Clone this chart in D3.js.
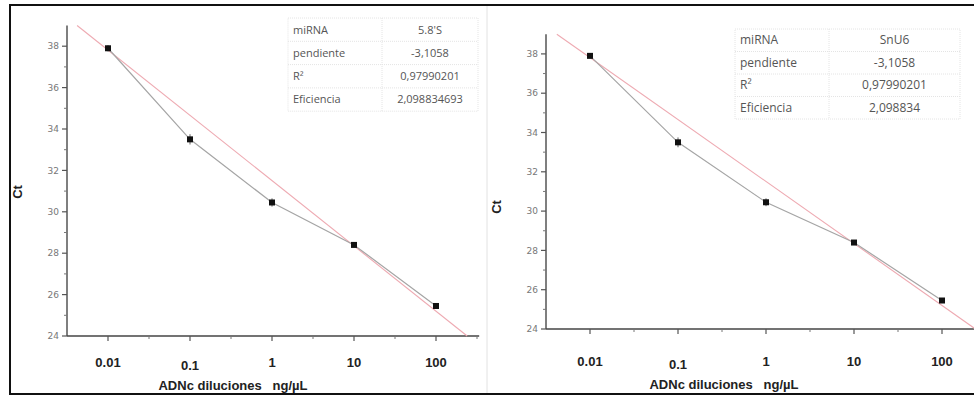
<!DOCTYPE html>
<html>
<head>
<meta charset="utf-8">
<script src="https://cdn.jsdelivr.net/npm/d3@7"></script>
<style>
  body { margin: 0; background: #fff; }
  svg { display: block; }
</style>
</head>
<body>
<script>
const width = 974, height = 396;

// data
const dilutions = [0.01, 0.1, 1, 10, 100];
const ctLeft = [37.9, 33.5, 30.45, 28.4, 25.45];
const errLeft = [0.15, 0.25, 0.2, 0.12, 0.12];
const ctRight = [37.9, 33.5, 30.45, 28.4, 25.45];
const errRight = [0.12, 0.25, 0.2, 0.1, 0.1];
const fitX = [0.0042, 240];
const fitY = [39.0, 24.0];
const yTicks = [24, 26, 28, 30, 32, 34, 36, 38];
const xTicks = [0.01, 0.1, 1, 10, 100];
const xTickLabels = ["0.01", "0.1", "1", "10", "100"];
const tableLabels = ["miRNA", "pendiente", "R²", "Eficiencia"];
const tableLeft = ["5.8'S", "-3,1058", "0,97990201", "2,098834693"];
const tableRight = ["SnU6", "-3,1058", "0,97990201", "2,098834"];

const svg = d3.select("body").append("svg").attr("width", width).attr("height", height);

// frame
svg.append("line").attr("x1", 10).attr("x2", width).attr("y1", 5).attr("y2", 5).attr("stroke", "#111").attr("stroke-width", 2);
svg.append("line").attr("x1", 10).attr("x2", width).attr("y1", 394).attr("y2", 394).attr("stroke", "#111").attr("stroke-width", 2);
svg.append("line").attr("x1", 10).attr("x2", 10).attr("y1", 4).attr("y2", 395).attr("stroke", "#111").attr("stroke-width", 2);
svg.append("line").attr("x1", 487).attr("x2", 487).attr("y1", 6).attr("y2", 393).attr("stroke", "#e2e2e2").attr("stroke-width", 1);

function drawPanel(p) {
  const g = svg.append("g");
  const x = d3.scaleLog().domain([Math.pow(10, -2.5), Math.pow(10, 2.5)]).range([p.x0, p.x0 + p.decade * 5]);
  const y = d3.scaleLinear().domain([24, 39]).range([p.y24, p.y24 - p.unit * 15]);

  // y axis
  const minorY = d3.range(25, 39, 2);
  g.append("line").attr("x1", p.x0).attr("x2", p.x0).attr("y1", y(39)).attr("y2", y(24))
    .attr("stroke", "#555").attr("stroke-width", 1.5);
  g.selectAll(".ymaj").data(yTicks).join("line")
    .attr("x1", p.x0 - 5).attr("x2", p.x0).attr("y1", d => y(d)).attr("y2", d => y(d))
    .attr("stroke", "#555").attr("stroke-width", 1.2);
  g.selectAll(".ymin").data(minorY).join("line")
    .attr("x1", p.x0 - 3).attr("x2", p.x0).attr("y1", d => y(d)).attr("y2", d => y(d))
    .attr("stroke", "#777").attr("stroke-width", 1);
  g.selectAll(".ylab").data(yTicks).join("text")
    .attr("x", p.x0 - 8).attr("y", d => y(d)).attr("dy", "0.35em")
    .attr("text-anchor", "end").attr("font-family", "DejaVu Sans, sans-serif")
    .attr("font-size", 9).attr("fill", "#777").text(d => d);

  // x axis
  const minorX = [0.01, 0.1, 1, 10, 100, 1000].map(d => d / Math.sqrt(10));
  g.append("line").attr("x1", p.x0).attr("x2", x(fitX[1]) + 12).attr("y1", y(24)).attr("y2", y(24))
    .attr("stroke", "#444").attr("stroke-width", 1.5);
  g.selectAll(".xmaj").data(xTicks).join("line")
    .attr("x1", d => x(d)).attr("x2", d => x(d)).attr("y1", y(24)).attr("y2", y(24) + 5)
    .attr("stroke", "#555").attr("stroke-width", 1.2);
  g.selectAll(".xmin").data(minorX.filter(d => x(d) > p.x0 + 2 && x(d) < width)).join("line")
    .attr("x1", d => x(d)).attr("x2", d => x(d)).attr("y1", y(24)).attr("y2", y(24) + 3)
    .attr("stroke", "#777").attr("stroke-width", 1);
  g.selectAll(".xlab").data(xTicks).join("text")
    .attr("x", d => x(d)).attr("y", (d, i) => p.tickY + (i === 1 ? 3 : 0))
    .attr("text-anchor", "middle").attr("font-family", "Liberation Sans, Arial, sans-serif")
    .attr("font-weight", "bold").attr("font-size", 13).attr("fill", "#222")
    .text((d, i) => xTickLabels[i]);

  // axis titles
  g.append("text").attr("x", p.titleX).attr("y", p.titleY).attr("text-anchor", "middle")
    .attr("font-family", "Liberation Sans, Arial, sans-serif").attr("font-weight", "bold")
    .attr("font-size", 13).attr("fill", "#222").attr("xml:space", "preserve")
    .text("ADNc diluciones   ng/µL");
  g.append("text").attr("transform", `translate(${p.ctX},${p.ctY}) rotate(-90)`)
    .attr("text-anchor", "middle").attr("font-family", "Liberation Sans, Arial, sans-serif")
    .attr("font-weight", "bold").attr("font-size", 13).attr("fill", "#222").text("Ct");

  // fit line
  g.append("line").attr("x1", x(fitX[0])).attr("y1", y(fitY[0])).attr("x2", x(fitX[1])).attr("y2", y(fitY[1]))
    .attr("stroke", "#eeaab2").attr("stroke-width", 1.1);

  // connecting line
  const pts = dilutions.map((d, i) => [d, p.ct[i], p.err[i]]);
  g.append("path").datum(pts)
    .attr("d", d3.line().x(d => x(d[0])).y(d => y(d[1])))
    .attr("fill", "none").attr("stroke", "#a5a5a5").attr("stroke-width", 1.2);

  // error bars
  g.selectAll(".err").data(pts).join("line")
    .attr("x1", d => x(d[0])).attr("x2", d => x(d[0]))
    .attr("y1", d => y(d[1] - d[2])).attr("y2", d => y(d[1] + d[2]))
    .attr("stroke", "#666").attr("stroke-width", 1);
  g.selectAll(".pt").data(pts).join("rect")
    .attr("x", d => x(d[0]) - 3).attr("y", d => y(d[1]) - 3)
    .attr("width", 6).attr("height", 6).attr("fill", "#111");

  // table
  const t = g.append("g").attr("transform", `translate(${p.tx},${p.ty})`);
  t.append("rect").attr("width", p.tw).attr("height", p.rowH * 4).attr("fill", "#fff")
    .attr("stroke", "#e4e4e4").attr("stroke-dasharray", "1,1");
  t.selectAll(".hl").data(d3.range(1, 4)).join("line")
    .attr("x1", 0).attr("x2", p.tw).attr("y1", d => d * p.rowH).attr("y2", d => d * p.rowH)
    .attr("stroke", "#e4e4e4").attr("stroke-dasharray", "1,1");
  t.append("line").attr("x1", p.colX).attr("x2", p.colX).attr("y1", 0).attr("y2", p.rowH * 4)
    .attr("stroke", "#e4e4e4").attr("stroke-dasharray", "1,1");
  t.selectAll(".lab").data(tableLabels).join("text")
    .attr("x", 5).attr("y", (d, i) => (i + 0.5) * p.rowH).attr("dy", "0.35em")
    .attr("font-family", "Open Sans, DejaVu Sans, sans-serif").attr("font-size", p.fs)
    .attr("fill", "#555").text(d => d);
  t.selectAll(".val").data(p.vals).join("text")
    .attr("x", (p.colX + p.tw) / 2).attr("y", (d, i) => (i + 0.5) * p.rowH).attr("dy", "0.35em")
    .attr("text-anchor", "middle")
    .attr("font-family", "Open Sans, DejaVu Sans, sans-serif").attr("font-size", p.fs)
    .attr("fill", "#555").text(d => d);
}

drawPanel({ x0: 67, decade: 82, y24: 336, unit: 20.7, ct: ctLeft, err: errLeft,
  tickY: 367, titleX: 233, titleY: 390, ctX: 22, ctY: 192,
  tx: 288, ty: 18, tw: 190, rowH: 23.3, colX: 94, fs: 11, vals: tableLeft });

drawPanel({ x0: 546, decade: 88, y24: 329, unit: 19.65, ct: ctRight, err: errRight,
  tickY: 366, titleX: 724, titleY: 389, ctX: 501, ctY: 207,
  tx: 735, ty: 29, tw: 225, rowH: 22.5, colX: 94, fs: 12, vals: tableRight });
</script>
</body>
</html>
